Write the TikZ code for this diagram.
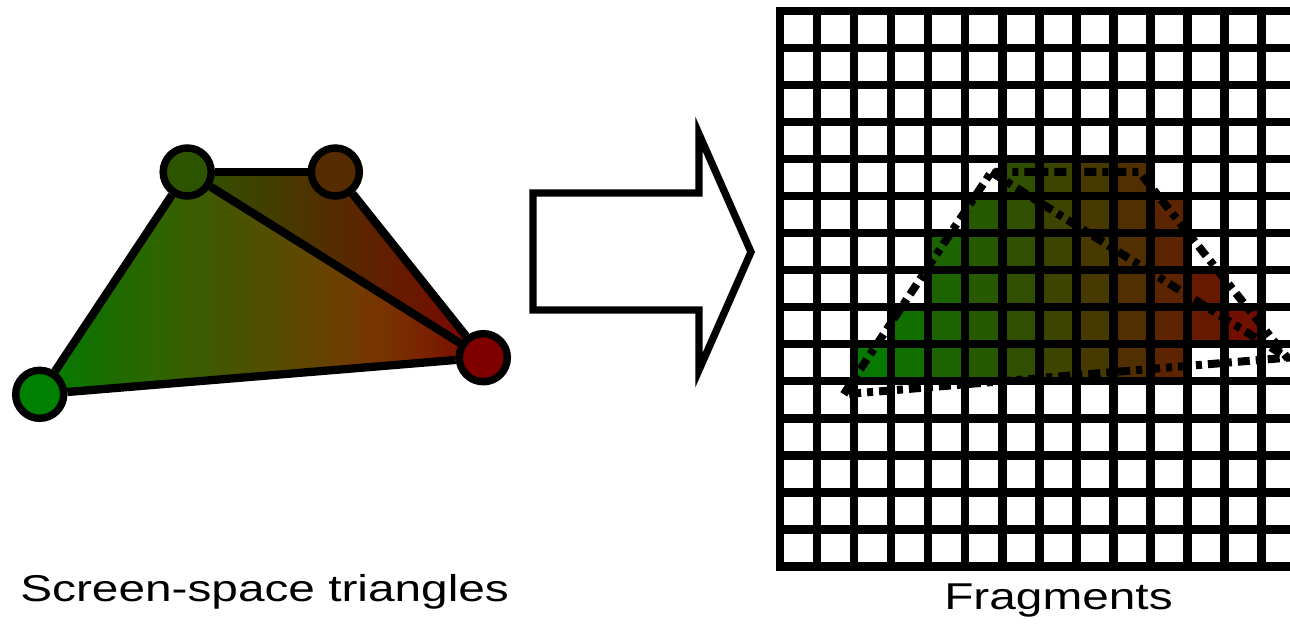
\documentclass[tikz,border=0pt]{standalone}
\usepackage{fontspec}
\setmainfont{Liberation Sans}
\newfontfamily\labelfont[FakeStretch=1.28]{Liberation Sans}
\usetikzlibrary{calc}
\definecolor{vg}{RGB}{0,128,0}
\definecolor{vr}{RGB}{128,0,0}
\definecolor{vtl}{RGB}{45,85,0}
\definecolor{vtr}{RGB}{85,43,0}
\pgfdeclarehorizontalshading{lowshade}{100bp}{rgb(0bp)=(0,0.502,0); rgb(25bp)=(0,0.502,0); rgb(31bp)=(0.082,0.439,0); rgb(38.5bp)=(0.188,0.392,0); rgb(46bp)=(0.267,0.337,0); rgb(53.5bp)=(0.361,0.29,0); rgb(61bp)=(0.447,0.227,0); rgb(65bp)=(0.478,0.184,0); rgb(70bp)=(0.471,0.11,0); rgb(75bp)=(0.502,0,0); rgb(100bp)=(0.502,0,0)}
\pgfdeclarehorizontalshading{upshade}{100bp}{rgb(0bp)=(0.176,0.333,0); rgb(25bp)=(0.176,0.333,0); rgb(50bp)=(0.333,0.169,0); rgb(75bp)=(0.49,0.02,0); rgb(100bp)=(0.49,0.02,0)}
\pgfdeclarelayer{fills}
\pgfdeclarelayer{edges}
\pgfsetlayers{fills,edges,main}
\begin{document}
\begin{tikzpicture}[x=0.75pt,y=-0.75pt,
  vtx/.style={circle, draw, line width=5.6pt, minimum size=36pt, inner sep=0pt},
  edge/.style={line width=6.2pt},
  gridline/.style={line width=6.4pt, line cap=rect},
  outline/.style={line width=6pt, dash pattern=on 9pt off 4.5pt on 4.5pt off 4.5pt},
  bigarrow/.style={draw, line width=5.5pt, fill=white, line join=miter},
  lbl/.style={inner sep=0pt, font={\labelfont\fontsize{28}{34}\selectfont}}]
\useasboundingbox (0,0) rectangle (1290,624);
\clip (0,0) rectangle (1290,624);

% ---- left: screen-space triangles ----
\node[vtx, fill=vg]  (L)  at (39.7,394.3) {};
\node[vtx, fill=vtl] (TL) at (187.2,172) {};
\node[vtx, fill=vtr] (TR) at (335.3,172) {};
\node[vtx, fill=vr]  (R)  at (483.3,357.7) {};

\begin{pgfonlayer}{fills}
  \begin{scope}
    \clip (L.center) -- (TL.center) -- (R.center) -- cycle;
    \shade[shading=lowshade] (39.7,140) rectangle (483.3,400);
  \end{scope}
  \begin{scope}
    \clip (TL.center) -- (TR.center) -- (R.center) -- cycle;
    \shade[shading=upshade] (187.2,140) rectangle (483.3,400);
  \end{scope}
\end{pgfonlayer}

\begin{pgfonlayer}{edges}
  \draw[edge] (L) -- (TL);
  \draw[edge] (TL) -- (TR);
  \draw[edge] (TR) -- (R);
  \draw[edge] (TL) -- (R);
  \draw[edge] (L) -- (R);
\end{pgfonlayer}

% ---- arrow ----
\draw[bigarrow] (533,193) -- (699,193) -- (699,134) -- (751,252) -- (699,370) -- (699,310) -- (533,310) -- cycle;

% ---- right: fragments grid ----
\foreach \r/\a/\b in {4/6/9, 5/5/10, 6/4/10, 7/4/11, 8/3/12, 9/2/10}{
  \foreach \c in {\a,...,\b}{
    \pgfmathsetmacro\p{100*(0.052+0.0834*(\c-2))}
    \fill[vr!\p!vg] (780+37.04*\c, 10.8+37.04*\r) rectangle ++(37.04,37.04);
  }
}
\foreach \k in {0,...,14}{
  \draw[gridline] (780+37.04*\k, 10.8) -- (780+37.04*\k, 566.4);
}
\foreach \k in {0,...,15}{
  \draw[gridline] (780, 10.8+37.04*\k) -- (1298.6, 10.8+37.04*\k);
}

\coordinate (L2)  at ($(L.center)+(804,0)$);
\coordinate (TL2) at ($(TL.center)+(804,0)$);
\coordinate (TR2) at ($(TR.center)+(804,0)$);
\coordinate (R2)  at ($(R.center)+(804,0)$);
\draw[outline] (L2) -- (TL2) -- (TR2) -- (R2) -- cycle;
\draw[outline] (TL2) -- (R2);

% ---- labels ----
\node[lbl, anchor=base west] (lab1) at (20,601) {Screen-space triangles};
\node[lbl, anchor=base west] (lab2) at (944,609) {Fragments};
\end{tikzpicture}
\end{document}
